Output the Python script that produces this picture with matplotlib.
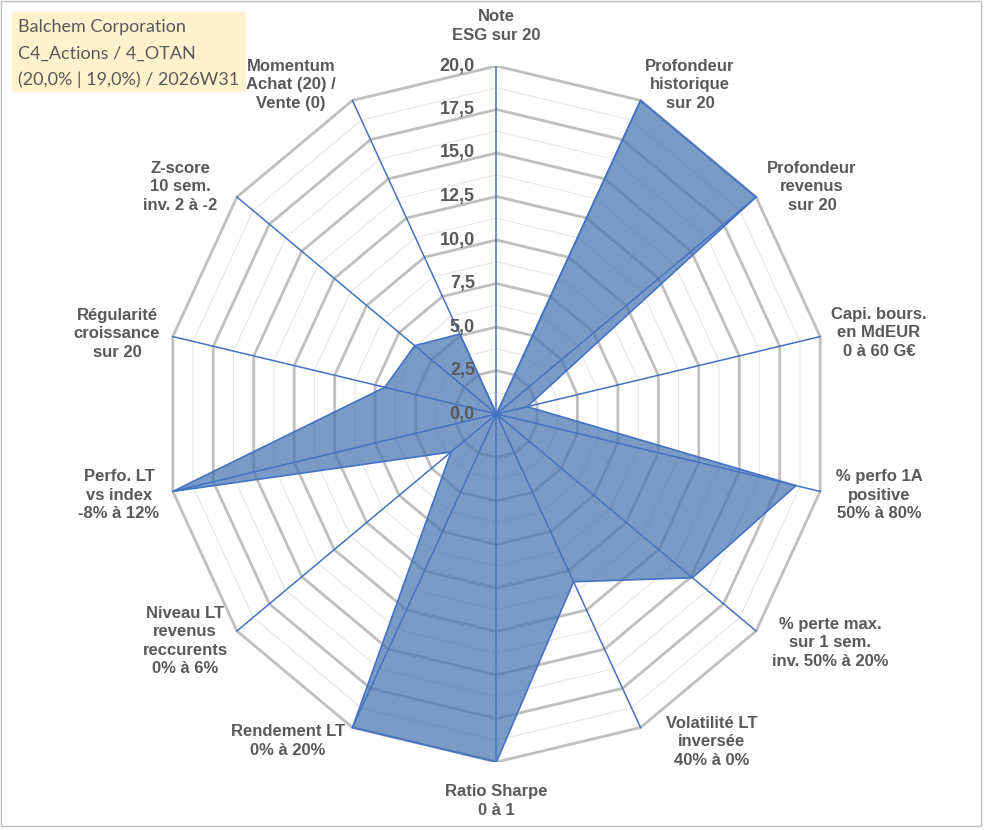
import numpy as np
import matplotlib.pyplot as plt
from matplotlib.patches import Rectangle

# critères du radar (sens horaire depuis le haut)
criteres = [
    "Note\nESG sur 20",
    "Profondeur\nhistorique\nsur 20",
    "Profondeur\nrevenus\nsur 20",
    "Capi. bours.\nen MdEUR\n0 à 60 G€",
    "% perfo 1A\npositive\n50% à 80%",
    "% perte max.\nsur 1 sem.\ninv. 50% à 20%",
    "Volatilité LT\ninversée\n40% à 0%",
    "Ratio Sharpe\n0 à 1",
    "Rendement LT\n0% à 20%",
    "Niveau LT\nrevenus\nreccurents\n0% à 6%",
    "Perfo. LT\nvs index\n-8% à 12%",
    "Régularité\ncroissance\nsur 20",
    "Z-score\n10 sem.\ninv. 2 à -2",
    "Momentum\nAchat (20) /\nVente (0)",
]
notes = [0, 20, 20, 1.9, 18.5, 15.1, 10.7, 20, 20, 3.5, 20, 6.9, 6.3, 5.1]
graduations = [0, 2.5, 5, 7.5, 10, 12.5, 15, 17.5, 20]
titre = ["Balchem Corporation", "C4_Actions / 4_OTAN", "(20,0% | 19,0%) / 2026W31"]

# placement des libellés (centre du bloc, unités du graphe)
pos_libelles = [
    (0, 22.3), (11.66, 18.91), (19.0, 13.05), (23.04, 4.66), (23.04, -4.66),
    (20.09, -13.16), (12.98, -18.85), (0, -22.24), (-12.56, -18.79),
    (-18.77, -13.05), (-22.74, -4.66), (-22.86, 4.6), (-19.07, 13.05),
    (-12.38, 18.91),
]

gris_txt = '#595959'
bleu = '#4472C4'

n = len(criteres)
ang = np.pi / 2 - 2 * np.pi * np.arange(n) / n
cx, cy = np.cos(ang), np.sin(ang)

W, H = 991, 830
fig = plt.figure(figsize=(W / 100, H / 100), dpi=100)
ax = fig.add_axes([164.5 / W, 68 / H, 664 / W, 696 / H])
ax.set_xlim(-20, 20)
ax.set_ylim(-20, 20)
ax.axis('off')

# anneaux : mineurs tous les 1,25 / majeurs tous les 2,5
for r in np.arange(1.25, 20.01, 1.25):
    majeur = abs(r / 2.5 - round(r / 2.5)) < 1e-6
    ax.plot(np.append(r * cx, r * cx[0]), np.append(r * cy, r * cy[0]),
            color='#BFBFBF' if majeur else '#E6E6E6',
            lw=2.0 if majeur else 0.8, zorder=1, solid_joinstyle='miter')

# série
v = np.array(notes)
px, py = v * cx, v * cy
ax.fill(px, py, facecolor='#4575B0', alpha=0.72, edgecolor='none', zorder=2)
ax.plot(np.append(px, px[0]), np.append(py, py[0]), color=bleu, lw=1.2, zorder=3)

# rayons
for i in range(n):
    ax.plot([0, 20 * cx[i]], [0, 20 * cy[i]], color=bleu, lw=1.1, zorder=4)

# graduations
for g in graduations:
    ax.text(-1.3, g, f"{g:.1f}".replace('.', ','), ha='right', va='center',
            fontsize=13, fontweight='bold', color=gris_txt,
            family='Liberation Sans', zorder=5)

# libellés des axes
for lab, (x, y) in zip(criteres, pos_libelles):
    ax.text(x, y, lab, ha='center', va='center', ma='center', fontsize=12,
            fontweight='bold', color=gris_txt, family='Liberation Sans',
            linespacing=1.3, clip_on=False)

# cartouche titre
fig.add_artist(Rectangle((12 / W, 1 - 92 / H), 234 / W, 80 / H,
                         transform=fig.transFigure, facecolor='#FFF2CC',
                         edgecolor='none'))
for k, ligne in enumerate(titre):
    fig.text(18 / W, 1 - (27 + 26.5 * k) / H, ligne, ha='left', va='center',
             fontsize=13, color=gris_txt, family='Lato')

# cadre
fig.add_artist(Rectangle((1 / W, 4 / H), 980 / W, 825 / H,
                         transform=fig.transFigure, facecolor='none',
                         edgecolor='#BFBFBF', lw=1))

fig.savefig('out.png', dpi=100)
